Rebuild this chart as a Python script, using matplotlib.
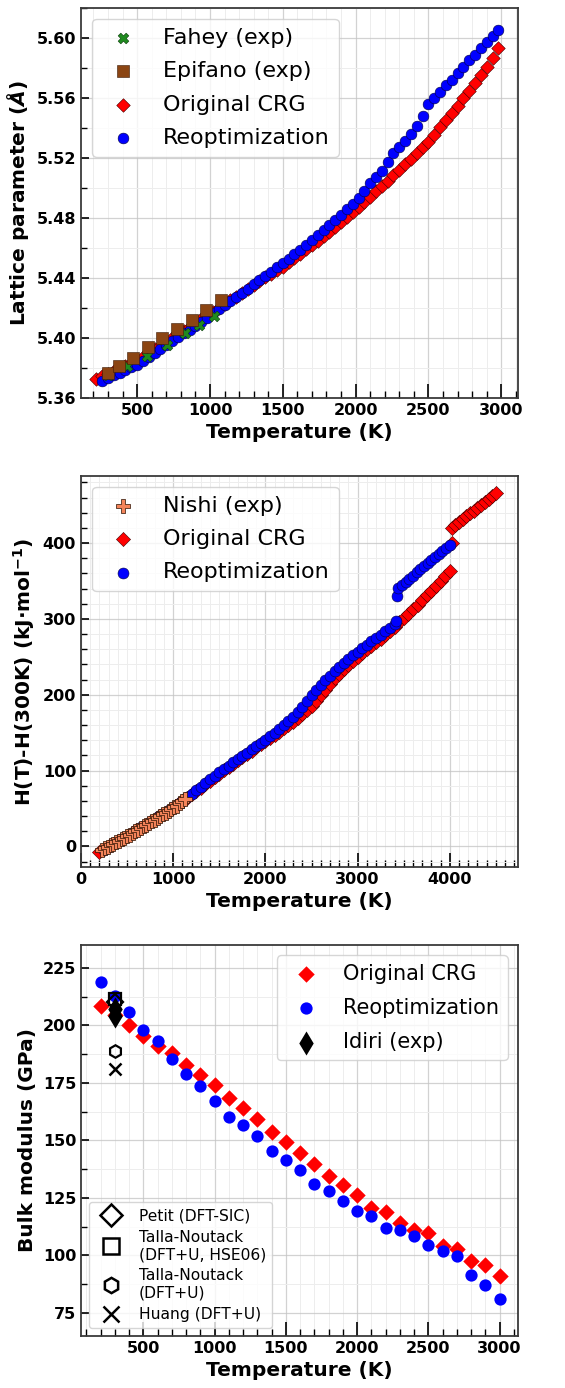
import numpy as np
import matplotlib
matplotlib.use("Agg")
import matplotlib.pyplot as plt
from matplotlib.lines import Line2D
from matplotlib.ticker import MultipleLocator, FormatStrFormatter

# ---- lattice parameter (A) ----
lat_crg_T = np.arange(220, 3000, 40)
lat_crg = [5.3728, 5.3745, 5.3762, 5.3780, 5.3798, 5.3815, 5.3832, 5.3850, 5.3875, 5.3900,
           5.3924, 5.3949, 5.3974, 5.3999, 5.4024, 5.4048, 5.4073, 5.4098, 5.4123, 5.4148,
           5.4173, 5.4198, 5.4224, 5.4250, 5.4276, 5.4302, 5.4328, 5.4353, 5.4378, 5.4403,
           5.4427, 5.4452, 5.4476, 5.4504, 5.4532, 5.4561, 5.4590, 5.4619, 5.4648, 5.4677,
           5.4708, 5.4740, 5.4772, 5.4805, 5.4838, 5.4872, 5.4907, 5.4942, 5.4977, 5.5013,
           5.5049, 5.5085, 5.5122, 5.5159, 5.5196, 5.5234, 5.5272, 5.5308, 5.5355, 5.5403,
           5.5451, 5.5500, 5.5549, 5.5598, 5.5648, 5.5700, 5.5752, 5.5805, 5.5865, 5.5930]
lat_reopt_T = np.arange(260, 3000, 40)
lat_reopt = [5.3716, 5.3733, 5.3750, 5.3768, 5.3786, 5.3804, 5.3822, 5.3848, 5.3874, 5.3900,
             5.3926, 5.3953, 5.3979, 5.4004, 5.4030, 5.4056, 5.4082, 5.4109, 5.4136, 5.4163,
             5.4190, 5.4218, 5.4245, 5.4272, 5.4300, 5.4328, 5.4357, 5.4385, 5.4413, 5.4441,
             5.4470, 5.4499, 5.4529, 5.4559, 5.4589, 5.4620, 5.4652, 5.4684, 5.4717, 5.4751,
             5.4786, 5.4822, 5.4858, 5.4895, 5.4935, 5.4980, 5.5030, 5.5070, 5.5110, 5.5175,
             5.5235, 5.5270, 5.5310, 5.5360, 5.5410, 5.5480, 5.5560, 5.5600, 5.5640, 5.5685,
             5.5720, 5.5765, 5.5805, 5.5850, 5.5885, 5.5930, 5.5970, 5.6010, 5.6056]
fahey_T = [300, 430, 566, 703, 829, 928, 1030]
fahey_a = [5.3755, 5.3811, 5.3880, 5.3955, 5.4033, 5.4088, 5.4148]
epifano_T = [303, 377, 475, 578, 674, 772, 875, 973, 1074]
epifano_a = [5.3766, 5.3815, 5.3866, 5.3940, 5.4000, 5.4060, 5.4121, 5.4183, 5.4254]

# ---- enthalpy increment (kJ/mol) ----
h_crg_T = np.arange(200, 4001, 50)
h_crg = [-7.0, -3.5, 0.0, 3.5, 7.0, 10.5, 14.0, 17.6, 21.2, 24.8,
         28.4, 32.0, 35.8, 39.6, 43.4, 47.2, 51.0, 55.4, 59.8, 64.2,
         68.6, 73.0, 77.6, 82.2, 86.8, 91.4, 96.0, 100.4, 104.8, 109.2,
         113.6, 118.0, 122.2, 126.4, 130.6, 134.8, 139.0, 143.0, 147.2, 151.4,
         155.6, 160.0, 164.5, 169.3, 174.3, 179.5, 185.0, 192.0, 199.5, 207.0,
         214.6, 222.0, 228.0, 233.8, 239.4, 244.8, 250.0, 255.0, 259.8, 264.6,
         269.3, 274.0, 279.2, 284.6, 290.0, 295.5, 301.0, 307.0, 313.0, 319.0,
         325.0, 331.0, 337.4, 343.8, 350.2, 356.6, 363.0]
h_crg_mid_T = [4020]
h_crg_mid = [400.0]
h_crg_liq_T = np.arange(4020, 4501, 40)
h_crg_liq = [420.0, 423.8, 427.7, 431.5, 435.3, 439.2, 443.0, 446.8, 450.7, 454.5,
             458.3, 462.2, 466.0]

h_reopt_T = np.arange(250, 3401, 50)
h_reopt = [-4.0, -0.3, 3.3, 6.9, 10.6, 14.3, 17.9, 21.5, 25.1, 28.8,
           32.6, 36.4, 40.2, 44.0, 47.8, 51.5, 56.0, 60.5, 65.0, 69.6,
           74.2, 78.9, 83.6, 88.4, 93.2, 98.0, 102.3, 106.6, 110.9, 115.2,
           119.5, 123.8, 128.1, 132.4, 136.7, 141.0, 145.5, 150.0, 154.8, 159.8,
           165.0, 171.0, 177.5, 184.0, 192.0, 200.0, 206.5, 212.8, 219.0, 225.0,
           231.0, 236.3, 241.6, 246.8, 252.0, 257.0, 261.5, 266.0, 270.4, 274.8,
           279.0, 283.6, 288.2, 294.0]
h_reopt_mid_T = [3420, 3430]
h_reopt_mid = [297.0, 330.0]
h_reopt_liq_T = np.arange(3440, 4001, 40)
h_reopt_liq = [341.0, 345.1, 349.1, 353.2, 357.3, 361.4, 365.4, 369.5, 373.6, 377.6,
               381.7, 385.8, 389.9, 393.9, 398.0]

nishi_T = np.arange(230, 1131, 30)
nishi_h = [-4.5, -2.6, -0.7, 1.3, 3.3, 5.3, 7.3, 9.4, 11.5, 13.6,
           15.7, 17.8, 20.0, 22.2, 24.4, 26.6, 28.8, 31.0, 33.3, 35.5,
           37.8, 40.1, 42.4, 44.7, 47.0, 49.3, 51.7, 54.0, 57.0, 59.8, 62.6]

# ---- bulk modulus (GPa) ----
bm_T = np.arange(200, 3001, 100)
bm_crg = [208.6, 204.5, 200.4, 195.3, 190.9, 188.0, 183.0, 178.6, 174.0, 168.5,
          164.1, 159.3, 153.6, 149.2, 144.6, 139.8, 134.7, 130.8, 126.4, 120.7,
          118.8, 114.1, 111.2, 109.8, 104.0, 102.8, 97.5, 96.0, 91.2]
bm_reopt = [218.9, 212.7, 205.7, 198.2, 193.1, 185.4, 179.1, 173.6, 167.3, 160.2,
            156.9, 152.1, 145.3, 141.4, 137.3, 131.1, 127.9, 123.6, 119.2, 117.0,
            112.0, 110.9, 108.6, 104.7, 102.1, 99.6, 91.7, 87.3, 81.0]
idiri_T = [300, 300]
idiri_B = [207.0, 204.0]
petit_T, petit_B = [300], [210.0]
talla_hse_T, talla_hse_B = [300], [211.5]
talla_u_T, talla_u_B = [300], [189.0]
huang_T, huang_B = [300], [181.0]

plt.rcParams['font.family'] = ['DejaVu Sans']
plt.rcParams['font.weight'] = 'bold'
plt.rcParams['axes.labelweight'] = 'bold'

RED = '#ff0000'
BLUE = '#0000ff'


def style_axis(ax, xmajor, xminor, ymajor, yminor):
    ax.xaxis.set_major_locator(MultipleLocator(xmajor))
    ax.xaxis.set_minor_locator(MultipleLocator(xminor))
    ax.yaxis.set_major_locator(MultipleLocator(ymajor))
    ax.yaxis.set_minor_locator(MultipleLocator(yminor))
    ax.tick_params(axis='both', which='both', direction='in', labelsize=11.5)
    ax.tick_params(axis='x', which='major', length=10, width=1.2)
    ax.tick_params(axis='x', which='minor', length=5, width=1.0)
    ax.tick_params(axis='y', which='major', length=6, width=1.2)
    ax.tick_params(axis='y', which='minor', length=4, width=1.0)
    ax.grid(True, which='major', color='#c4c4c4', lw=0.9, alpha=0.75)
    ax.grid(True, which='minor', color='#ededed', lw=0.7)
    ax.set_axisbelow(True)
    for sp in ax.spines.values():
        sp.set_color('#3a3a3a')
        sp.set_linewidth(1.3)
    ax.set_xlabel('Temperature (K)', fontsize=14.5)


fig = plt.figure(figsize=(5.65, 13.88), dpi=100)

# 1. Lattice parameter vs temperature
ax = fig.add_axes([0.1434, 0.7133, 0.7735, 0.2810])
h_crg1 = ax.scatter(lat_crg_T, lat_crg, marker='D', s=48, color=RED,
                    edgecolors='#400000', linewidths=0.4, zorder=2, label='Original CRG')
h_re1 = ax.scatter(lat_reopt_T, lat_reopt, marker='o', s=60, color=BLUE,
                   edgecolors='#000040', linewidths=0.4, zorder=3, label='Reoptimization')
h_fah = ax.scatter(fahey_T, fahey_a, marker='X', s=60, color='#1f8a1f',
                   edgecolors='#0b3d0b', linewidths=0.4, zorder=4, label='Fahey (exp)')
h_epi = ax.scatter(epifano_T, epifano_a, marker='s', s=70, color='#8b4513',
                   edgecolors='#3a1a05', linewidths=0.4, zorder=5, label='Epifano (exp)')
ax.set_xlim(115, 3115)
ax.set_ylim(5.36, 5.62)
style_axis(ax, 500, 100, 0.04, 0.02)
ax.yaxis.set_major_formatter(FormatStrFormatter('%.2f'))
ax.set_ylabel(r'Lattice parameter ($\AA$)', fontsize=14.5)
ax.legend(handles=[h_fah, h_epi, h_crg1, h_re1], loc='upper left',
          prop={'weight': 'normal', 'size': 16}, labelspacing=0.6)

# 2. Enthalpy increment vs temperature
ax = fig.add_axes([0.1434, 0.3754, 0.7735, 0.2819])
h_crg2 = ax.scatter(np.concatenate([h_crg_T, h_crg_mid_T, h_crg_liq_T]),
                    h_crg + h_crg_mid + h_crg_liq, marker='D', s=52, color=RED,
                    edgecolors='#400000', linewidths=0.4, zorder=2, label='Original CRG')
h_re2 = ax.scatter(np.concatenate([h_reopt_T, h_reopt_mid_T, h_reopt_liq_T]),
                   h_reopt + h_reopt_mid + h_reopt_liq, marker='o', s=62, color=BLUE,
                   edgecolors='#000040', linewidths=0.4, zorder=3, label='Reoptimization')
h_nis = ax.scatter(nishi_T, nishi_h, marker='P', s=95, color='#f4845a',
                   edgecolors='#2a1000', linewidths=0.5, zorder=4, label='Nishi (exp)')
ax.set_xlim(0, 4740)
ax.set_ylim(-27, 489)
style_axis(ax, 1000, 100, 100, 20)
ax.set_ylabel(r'H(T)-H(300K) (kJ$\cdot$mol$^{-1}$)', fontsize=14.5)
ax.legend(handles=[h_nis, h_crg2, h_re2], loc='upper left',
          prop={'weight': 'normal', 'size': 16}, labelspacing=0.6)

# 3. Bulk modulus vs temperature
ax = fig.add_axes([0.1434, 0.0375, 0.7735, 0.2817])
h_crg3 = ax.scatter(bm_T, bm_crg, marker='D', s=70, color=RED, linewidths=0,
                    zorder=2, label='Original CRG')
h_re3 = ax.scatter(bm_T, bm_reopt, marker='o', s=78, color=BLUE, linewidths=0,
                   zorder=3, label='Reoptimization')
h_idi = ax.scatter(idiri_T, idiri_B, marker='d', s=150, color='k', linewidths=0,
                   zorder=5, label='Idiri (exp)')
ax.plot(petit_T, petit_B, ls='none', marker='D', ms=8, mfc='none', mec='k', mew=1.6, zorder=6)
ax.plot(talla_hse_T, talla_hse_B, ls='none', marker='s', ms=8, mfc='none', mec='k', mew=1.6, zorder=6)
ax.plot(talla_u_T, talla_u_B, ls='none', marker='h', ms=9, mfc='none', mec='k', mew=1.6, zorder=6)
ax.plot(huang_T, huang_B, ls='none', marker='x', ms=9, mec='k', mew=1.8, zorder=6)
ax.set_xlim(62, 3130)
ax.set_ylim(65, 235)
style_axis(ax, 500, 100, 25, 12.5)
ax.set_ylabel('Bulk modulus (GPa)', fontsize=14.5)

leg1 = ax.legend(handles=[h_crg3, h_re3, h_idi], loc='upper right',
                 prop={'weight': 'normal', 'size': 15}, labelspacing=0.68)
ax.add_artist(leg1)
dft_handles = [
    Line2D([], [], ls='none', marker='D', ms=11, mfc='none', mec='k', mew=1.8),
    Line2D([], [], ls='none', marker='s', ms=11, mfc='none', mec='k', mew=1.8),
    Line2D([], [], ls='none', marker='h', ms=11, mfc='none', mec='k', mew=1.8),
    Line2D([], [], ls='none', marker='x', ms=11, mec='k', mew=1.8),
]
dft_labels = ['Petit (DFT-SIC)', 'Talla-Noutack\n(DFT+U, HSE06)',
              'Talla-Noutack\n(DFT+U)', 'Huang (DFT+U)']
ax.legend(dft_handles, dft_labels, loc='lower left',
          prop={'weight': 'normal', 'size': 11.2}, labelspacing=0.4)

fig.savefig('out.png', dpi=100)
